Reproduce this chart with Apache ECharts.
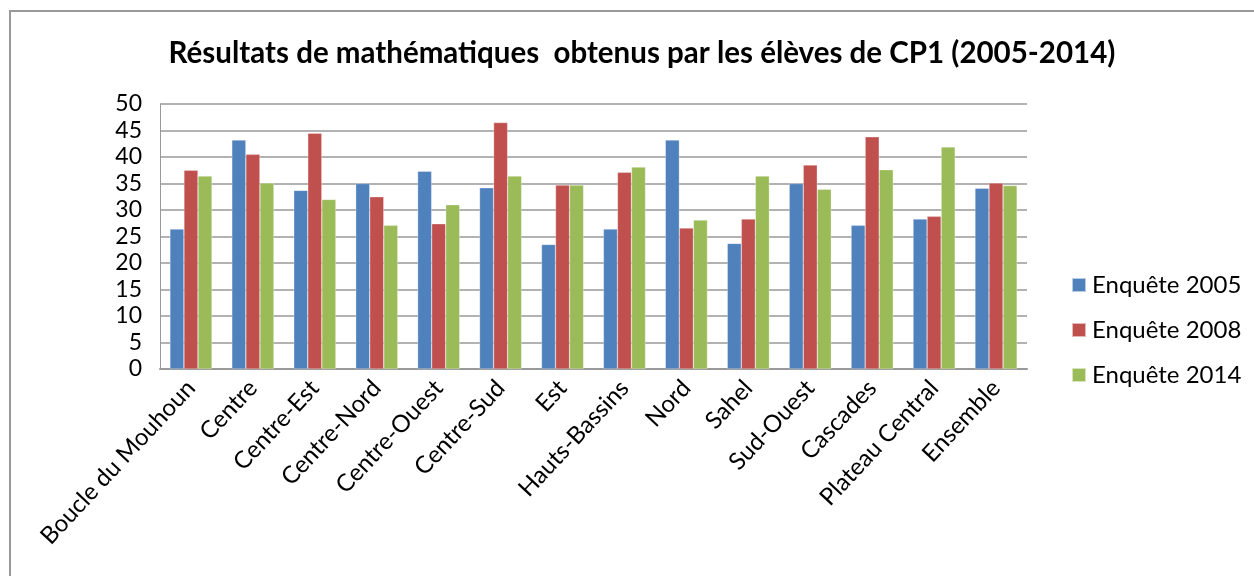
<!DOCTYPE html>
<html>
<head>
<meta charset="utf-8">
<script src="https://cdn.jsdelivr.net/npm/echarts@6/dist/echarts.min.js"></script>
<style>
	html, body { margin: 0; padding: 0; background: #fff; }
	#chart { width: 1254px; height: 576px; }
</style>
</head>
<body>
<div id="chart"></div>
<script>
	// régions
	var regions = ['Boucle du Mouhoun', 'Centre', 'Centre-Est', 'Centre-Nord', 'Centre-Ouest', 'Centre-Sud', 'Est',
		'Hauts-Bassins', 'Nord', 'Sahel', 'Sud-Ouest', 'Cascades', 'Plateau Central', 'Ensemble'];

	var enquete2005 = [26.4, 43.2, 33.7, 35.0, 37.3, 34.2, 23.5, 26.4, 43.2, 23.7, 35.0, 27.1, 28.3, 34.1];
	var enquete2008 = [37.5, 40.5, 44.5, 32.5, 27.4, 46.5, 34.7, 37.1, 26.6, 28.3, 38.5, 43.8, 28.8, 35.1];
	var enquete2014 = [36.4, 35.1, 32.0, 27.1, 31.0, 36.4, 34.7, 38.1, 28.1, 36.4, 33.9, 37.6, 41.9, 34.6];

	var seriesNames = ['Enquête 2005', 'Enquête 2008', 'Enquête 2014'];
	var colors = ['#4f81bd', '#c0504d', '#9bbb59'];

	var font = 'Lato, "Open Sans", sans-serif';

	var myChart = echarts.init(document.getElementById('chart'));

	var makeSerie = function(name, data) {
		return {
			name: name,
			type: 'bar',
			data: data,
			barGap: '0%',
			barCategoryGap: '32%',
			itemStyle: { borderColor: 'rgba(255,255,255,0.6)', borderWidth: 0.5 }
		};
	};

	var options = {
		animation: false,
		color: colors,
		title: {
			text: 'Résultats de mathématiques  obtenus par les élèves de CP1 (2005-2014)',
			left: 637,
			textAlign: 'center',
			top: 33,
			textStyle: { fontFamily: font, fontWeight: 'bold', fontSize: 29.5, color: '#000' }
		},
		legend: {
			orient: 'vertical',
			left: 1066,
			top: 268,
			itemWidth: 14,
			itemHeight: 14,
			itemGap: 21,
			icon: 'rect',
			data: seriesNames,
			textStyle: { fontFamily: font, fontSize: 24, color: '#000', padding: [0, 0, 0, 1] }
		},
		grid: {
			left: 160,
			top: 104,
			width: 867,
			height: 265,
			containLabel: false
		},
		xAxis: {
			type: 'category',
			data: regions,
			axisLine: { show: true, lineStyle: { color: '#999', width: 2 } },
			axisTick: { show: false },
			axisLabel: {
				rotate: 47,
				interval: 0,
				margin: 15,
				fontFamily: font,
				fontSize: 24,
				color: '#000'
			}
		},
		yAxis: {
			type: 'value',
			min: 0,
			max: 50,
			interval: 5,
			axisLine: { show: true, lineStyle: { color: '#999', width: 1 } },
			axisTick: { show: false },
			splitLine: { lineStyle: { color: '#999', width: 1.5 } },
			axisLabel: { fontFamily: font, fontSize: 23, color: '#000', margin: 18 }
		},
		graphic: [{
			type: 'rect',
			shape: { x: 10, y: 11, width: 1260, height: 600 },
			style: { fill: 'none', stroke: '#999', lineWidth: 2 },
			silent: true
		}],
		series: [
			makeSerie(seriesNames[0], enquete2005),
			makeSerie(seriesNames[1], enquete2008),
			makeSerie(seriesNames[2], enquete2014)
		]
	};

	myChart.setOption(options, true);
</script>
</body>
</html>
